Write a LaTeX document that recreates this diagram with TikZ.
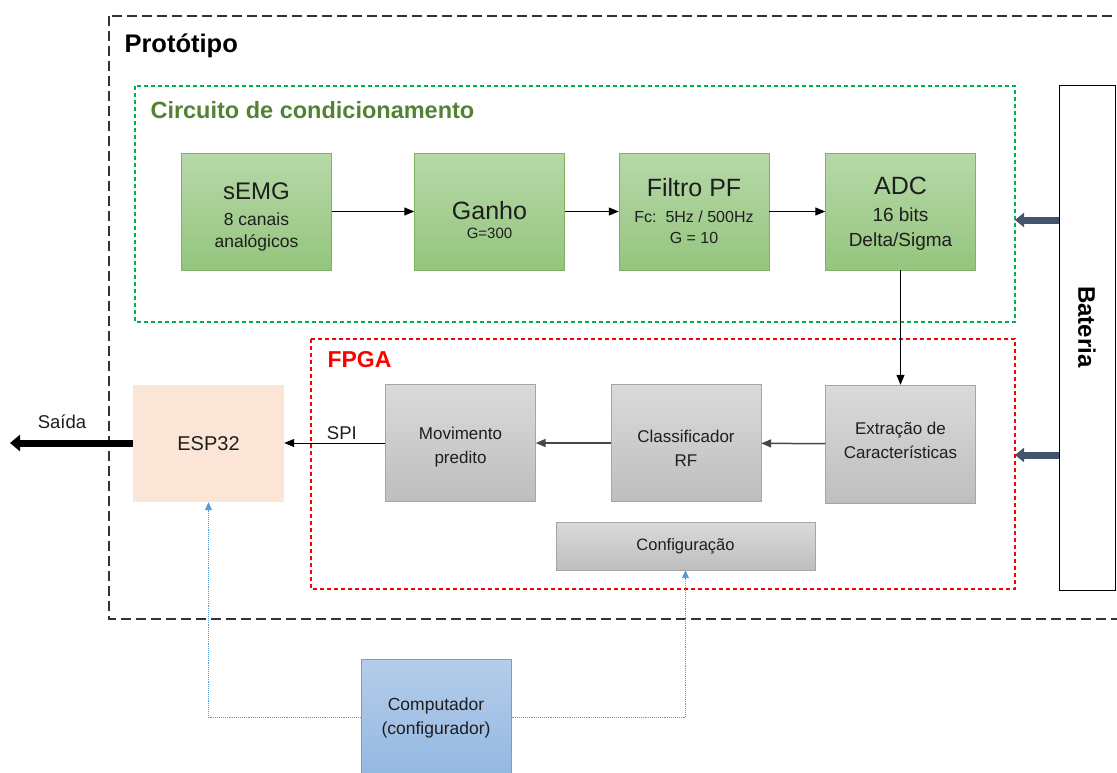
\documentclass[tikz,border=0pt]{standalone}
\usepackage{fontspec}
\setmainfont{Liberation Sans}
\usetikzlibrary{arrows.meta}

\definecolor{greenT}{RGB}{183,216,168}
\definecolor{greenB}{RGB}{148,197,126}
\definecolor{greenD}{RGB}{128,178,100}
\definecolor{grayT}{RGB}{218,218,218}
\definecolor{grayB}{RGB}{190,190,190}
\definecolor{grayD}{RGB}{165,165,165}
\definecolor{blueT}{RGB}{180,205,234}
\definecolor{blueB}{RGB}{148,184,226}
\definecolor{blueD}{RGB}{110,160,214}
\definecolor{espfill}{RGB}{251,229,214}
\definecolor{titlegreen}{RGB}{84,130,53}
\definecolor{dashgreen}{RGB}{0,176,80}
\definecolor{fpgared}{RGB}{255,0,0}
\definecolor{battarrow}{RGB}{68,84,106}
\definecolor{dotblue}{RGB}{91,155,213}
\definecolor{txt}{RGB}{30,30,30}

\newcommand\fsz[2]{\fontsize{#1pt}{#2pt}\selectfont}

\begin{document}
\begin{tikzpicture}[x=1pt,y=-1pt,
  block/.style={draw, inner sep=0pt, align=center, text=txt},
  greenblock/.style={block, draw=greenD, top color=greenT, bottom color=greenB,
     minimum width=150pt, minimum height=117pt},
  grayblock/.style={block, draw=grayD, top color=grayT, bottom color=grayB,
     minimum width=150pt, minimum height=117pt},
  blocktext/.style={inner sep=0pt, align=center, text=txt},
  graytext/.style={blocktext, font=\fsz{17}{24}},
  flow/.style={-{Triangle[length=10pt,width=8pt]}, line width=1pt, black},
  grayflow/.style={-{Triangle[length=10pt,width=8pt]}, line width=1.5pt, black!72},
  power/.style={-{Triangle[length=9pt,width=14pt]}, line width=7pt, battarrow},
  link/.style={-{Triangle[length=8pt,width=7pt]}, dotblue, line width=0.9pt, densely dotted},
  frame/.style={line width=1.2pt, dash pattern=on 4pt off 3pt},
]
\useasboundingbox (0,0) rectangle (1117,772);

% prototype frame (its right side runs past the page edge)
\draw[black!80, line width=1.2pt, dash pattern=on 10pt off 5pt] (109,16) rectangle (1140,619);
\node[anchor=west, font=\bfseries\fsz{25.5}{28}] (ttlproto) at (121,46) {Protótipo};

% conditioning circuit frame
\draw[frame, draw=dashgreen] (135,86) rectangle (1015,322);
\node[anchor=west, text=titlegreen, font=\bfseries\fsz{23.5}{28}] (ttlcirc) at (147,110) {Circuito de condicionamento};

% FPGA frame
\draw[frame, draw=fpgared] (311,339) rectangle (1015,589);
\node[anchor=west, text=fpgared, font=\bfseries\fsz{23}{28}] (ttlfpga) at (324,360) {FPGA};

% conditioning chain
\node[greenblock] (semg) at (256.5,211.5) {};
\node[greenblock] (ganho) at (489.5,211.5) {};
\node[greenblock] (filtro) at (694,211.5) {};
\node[greenblock] (adc) at (900.5,211.5) {};

\node[blocktext, font=\fsz{17.5}{22}, yshift=-5pt] (semgtxt) at (semg.center)
  {{\fsz{24}{22}sEMG}\\[4pt]8 canais\\analógicos};
\node[blocktext, font=\fsz{15}{22}, yshift=-9pt] (ganhotxt) at (ganho.center)
  {{\fsz{25}{22}Ganho}\\[-3pt]G=300};
\node[blocktext, font=\fsz{16}{21}] (filtrotxt) at (filtro.center)
  {{\fsz{25}{22}Filtro PF}\\[5pt]Fc:\ \ 5Hz / 500Hz\\G = 10};
\node[blocktext, font=\fsz{19}{25}, yshift=-2pt] (adctxt) at (adc.center)
  {{\fsz{25}{22}ADC}\\[2pt]16 bits\\Delta/Sigma};

\draw[flow] (semg) -- (ganho);
\draw[flow] (ganho) -- (filtro);
\draw[flow] (filtro) -- (adc);

% FPGA processing chain
\node[grayblock, minimum height=118pt] (extr) at (900.5,444) {};
\node[grayblock] (classif) at (686,443) {};
\node[grayblock] (mov) at (460.5,443) {};
\node[grayblock, minimum width=259pt, minimum height=48pt, font=\fsz{16.5}{20}] (config) at (685.5,546) {Configuração};

\node[graytext, yshift=4pt] (extrtxt) at (extr.center) {Extração de\\Características};
\node[graytext, yshift=-5pt] (classiftxt) at (classif.center) {Classificador\\RF};
\node[graytext, yshift=-4pt] (movtxt) at (mov.center) {Movimento\\predito};

\draw[flow] (adc.south) -- (extr.north);
\draw[grayflow] (extr) -- (classif);
\draw[grayflow] (classif) -- (mov);

% ESP32 and output
\node[block, draw=none, fill=espfill, minimum width=151pt, minimum height=117pt, font=\fsz{20}{24}] (esp) at (208.5,443.5) {ESP32};
\draw[flow] (mov.west) -- node[above, pos=0.43, font=\fsz{18.5}{22}, text=txt, inner sep=3pt] (spi) {SPI} (esp.east |- mov.west);

\coordinate (out) at (10,443);
\draw[-{Triangle[length=10pt,width=16pt]}, line width=7pt, black] (esp.west |- out) -- (out);
\node[font=\fsz{18.5}{22}, text=txt] (saida) at (62,422) {Saída};

% battery
\node[block, draw=black, line width=1pt, fill=white, minimum width=56pt, minimum height=505pt] (bat) at (1087,337.5) {};
\node[rotate=-90, font=\bfseries\fsz{24}{28}] (batlbl) at (1087,327) {Bateria};
\coordinate (p1) at (1015,220);
\coordinate (p2) at (1015,455);
\draw[power] (bat.west |- p1) -- (p1);
\draw[power] (bat.west |- p2) -- (p2);

% configuring computer
\node[block, draw=blueD, line width=1pt, top color=blueT, bottom color=blueB, minimum width=150pt, minimum height=117pt, font=\fsz{17.5}{24}] (comp) at (436,717.5) {Computador\\(configurador)};
\draw[link] (comp.west) -| (esp.south);
\draw[link] (comp.east) -| (config.south);
\end{tikzpicture}
\end{document}
